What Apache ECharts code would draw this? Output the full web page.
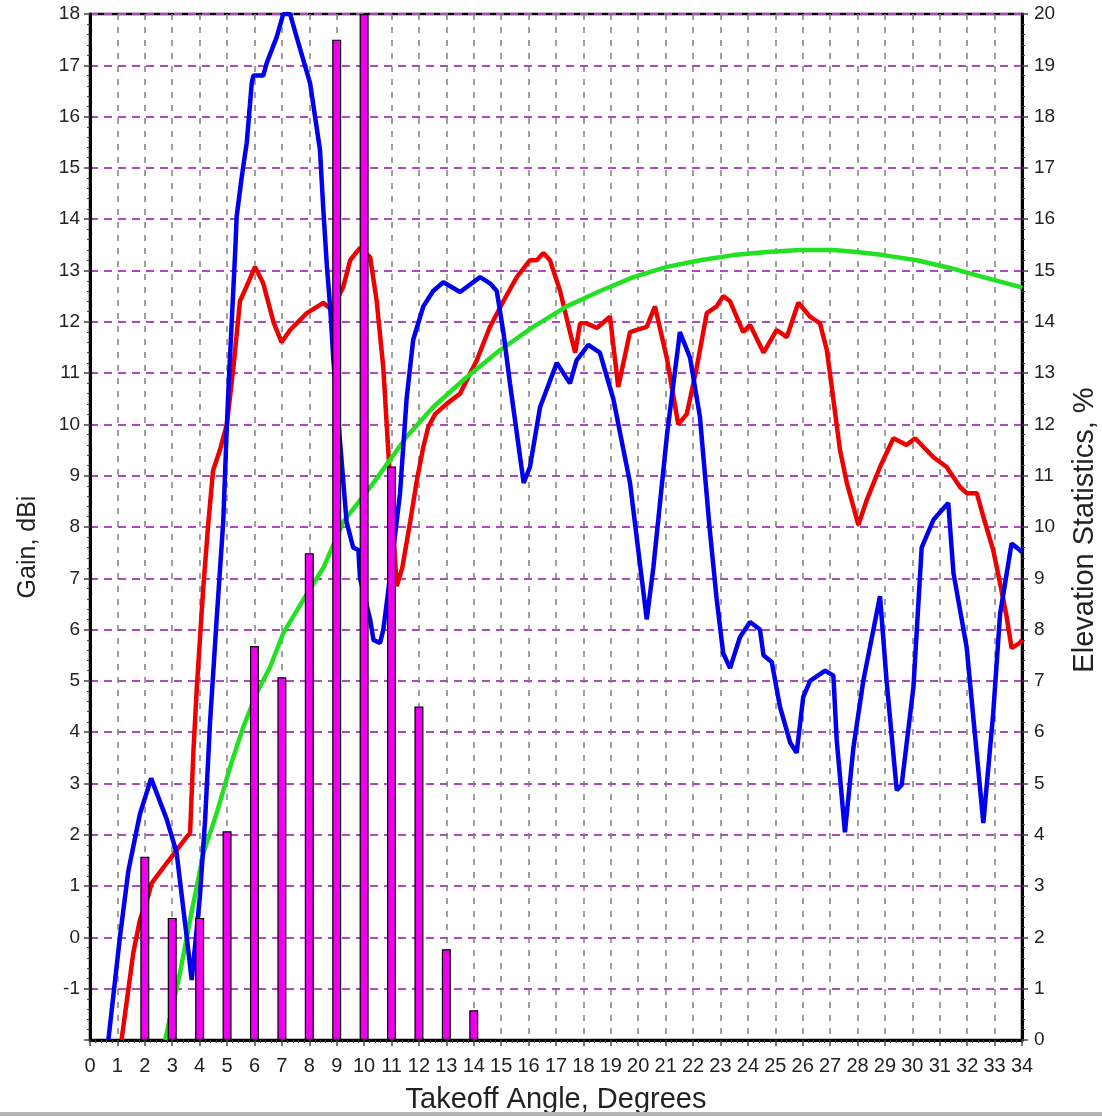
<!DOCTYPE html>
<html>
<head>
<meta charset="utf-8">
<script src="https://cdn.jsdelivr.net/npm/echarts@6/dist/echarts.min.js"></script>
<style>
html,body{margin:0;padding:0;background:#fff;}
#chart{width:1102px;height:1118px;}
</style>
</head>
<body>
<div id="chart"></div>
<script>
// Takeoff angle (deg) vs gain (dBi) - blue antenna
const blueGain = [[0.67,-2],[1.09,0],[1.40,1.3],[1.82,2.4],[2.23,3.1],[2.80,2.3],[3.16,1.65],[3.53,0.0],[3.71,-0.83],[4.01,0.8],[4.20,2.3],[4.38,4.2],[4.62,6.2],[4.86,8.1],[4.98,9.8],[5.06,10.8],[5.18,12.1],[5.30,13.4],[5.35,14.05],[5.53,14.8],[5.72,15.5],[5.90,16.65],[5.96,16.8],[6.32,16.8],[6.45,17.05],[6.81,17.55],[7.05,18.0],[7.30,18.0],[7.54,17.55],[8.03,16.65],[8.39,15.35],[8.51,14.2],[8.64,13.1],[8.76,12.3],[8.88,11.25],[9.36,8.1],[9.60,7.6],[9.79,7.55],[9.85,7.0],[10.22,6.2],[10.34,5.8],[10.58,5.74],[10.70,6.0],[10.82,6.5],[10.94,7.0],[11.31,8.66],[11.55,10.5],[11.79,11.65],[12.16,12.3],[12.52,12.6],[12.89,12.77],[13.50,12.58],[14.23,12.87],[14.59,12.75],[14.84,12.6],[15.08,11.8],[15.32,10.8],[15.82,8.86],[16.05,9.17],[16.42,10.34],[17.03,11.2],[17.51,10.8],[17.75,11.25],[18.18,11.55],[18.60,11.4],[19.09,10.5],[19.70,8.86],[20.31,6.2],[20.55,7.2],[21.05,9.8],[21.52,11.8],[21.89,11.3],[22.25,10.15],[22.60,8.0],[22.86,6.6],[23.10,5.54],[23.35,5.25],[23.71,5.85],[24.08,6.15],[24.44,6.0],[24.57,5.5],[24.87,5.37],[25.17,4.5],[25.54,3.8],[25.78,3.6],[26.02,4.69],[26.27,5.0],[26.82,5.2],[27.12,5.1],[27.24,3.85],[27.54,2.05],[27.85,3.7],[28.21,5.0],[28.82,6.65],[29.06,5.0],[29.43,2.87],[29.61,2.97],[30.04,4.88],[30.34,7.6],[30.77,8.14],[31.31,8.47],[31.50,7.1],[31.98,5.66],[32.59,2.23],[32.95,4.37],[33.20,6.3],[33.62,7.68],[33.92,7.55],[34.0,7.5]];

// red antenna
const redGain = [[1.15,-2],[1.58,-0.3],[1.82,0.34],[2.12,0.8],[2.25,1.06],[2.80,1.45],[3.53,1.96],[3.65,2.03],[3.77,3.6],[3.90,4.9],[4.13,6.8],[4.32,8.1],[4.49,9.1],[4.74,9.5],[4.99,10.0],[5.23,11.1],[5.47,12.4],[5.72,12.7],[6.02,13.07],[6.32,12.75],[6.69,12.0],[6.99,11.6],[7.30,11.84],[7.91,12.17],[8.51,12.37],[8.82,12.23],[9.24,12.68],[9.49,13.2],[9.85,13.44],[10.22,13.26],[10.46,12.4],[10.70,11.1],[10.88,9.5],[10.94,8.97],[11.19,6.85],[11.39,7.2],[11.68,8.1],[11.92,8.9],[12.16,9.56],[12.34,9.95],[12.59,10.2],[13.01,10.4],[13.50,10.6],[14.11,11.25],[14.59,11.9],[15.08,12.4],[15.57,12.87],[16.05,13.2],[16.30,13.2],[16.54,13.34],[16.78,13.2],[17.15,12.6],[17.51,11.8],[17.70,11.4],[17.88,11.97],[18.12,11.97],[18.49,11.88],[18.97,12.1],[19.27,10.73],[19.70,11.8],[20.31,11.9],[20.61,12.3],[21.04,11.3],[21.46,10.0],[21.77,10.2],[22.13,11.1],[22.50,12.17],[22.86,12.3],[23.10,12.5],[23.35,12.4],[23.83,11.8],[24.08,11.94],[24.57,11.4],[25.05,11.84],[25.42,11.7],[25.84,12.37],[26.27,12.1],[26.63,11.97],[26.88,11.45],[27.12,10.48],[27.36,9.5],[27.61,8.86],[28.03,8.04],[28.34,8.53],[28.82,9.17],[29.31,9.73],[29.79,9.6],[30.10,9.73],[30.77,9.36],[31.25,9.17],[31.74,8.78],[31.98,8.66],[32.35,8.66],[32.59,8.2],[32.95,7.55],[33.20,6.9],[33.44,6.25],[33.62,5.64],[33.92,5.74],[34.0,5.8]];

// green reference
const greenGain = [[2.74,-2],[3.28,-0.7],[3.65,0.34],[4.14,1.65],[4.62,2.42],[5.11,3.32],[5.59,4.1],[6.08,4.76],[6.57,5.27],[7.05,5.93],[7.78,6.58],[8.51,7.2],[9.24,8.1],[10.34,8.86],[11.55,9.76],[12.52,10.34],[13.74,10.92],[14.96,11.45],[16.17,11.9],[17.39,12.3],[18.61,12.6],[19.82,12.87],[21.04,13.07],[22.25,13.2],[23.47,13.3],[24.69,13.36],[25.90,13.4],[27.12,13.4],[27.97,13.36],[28.94,13.3],[30.16,13.2],[31.37,13.05],[32.59,12.87],[33.92,12.68],[34.0,12.66]];

// Elevation statistics, %
const statAngles = [2,3,4,5,6,7,8,9,10,11,12,13,14];
const statPercent = [3.57,2.38,2.38,4.07,7.68,7.07,9.49,19.5,20,11.18,6.5,1.77,0.58];

const xTitle = 'Takeoff Angle, Degrees';
const yLeftTitle = 'Gain, dBi';
const yRightTitle = 'Elevation Statistics, %';

const chart = echarts.init(document.getElementById('chart'), null, {renderer:'canvas'});
const FONT = 'Liberation Sans, Arial, sans-serif';
const gridL = 90, gridR = 80, gridT = 14, gridB = 78;

chart.setOption({
  animation:false,
  backgroundColor:'#fff',
  grid:{left:gridL,right:gridR,top:gridT,bottom:gridB,show:true,borderColor:'#000',borderWidth:2.5,backgroundColor:'#fff'},
  xAxis:{
    type:'value',min:0,max:34,interval:1,
    axisLine:{onZero:false,lineStyle:{color:'#000',width:3}},
    axisTick:{length:6,lineStyle:{color:'#444',width:1.5}},
    minorTick:{show:true,splitNumber:5,length:3,lineStyle:{color:'#444',width:1}},
    axisLabel:{fontFamily:FONT,fontSize:20,color:'#222',margin:16},
    splitLine:{show:true,lineStyle:{color:'#808080',width:1.5,type:[6,7]}}
  },
  yAxis:[{
    type:'value',min:-2,max:18,interval:1,position:'left',
    axisLine:{show:true,onZero:false,lineStyle:{color:'#000',width:3}},
    axisTick:{show:true,length:6,lineStyle:{color:'#444',width:1.5}},
    minorTick:{show:true,splitNumber:5,length:3,lineStyle:{color:'#444',width:1}},
    axisLabel:{fontFamily:FONT,fontSize:19,color:'#222',margin:10,formatter:v=>v===-2?'':String(v)},
    splitLine:{show:true,lineStyle:{color:'#b048c0',width:2,type:[8,6]}}
  },{
    type:'value',min:0,max:20,interval:1,position:'right',
    axisLine:{show:true,onZero:false,lineStyle:{color:'#000',width:3}},
    axisTick:{show:true,length:6,lineStyle:{color:'#444',width:1.5}},
    minorTick:{show:true,splitNumber:5,length:3,lineStyle:{color:'#444',width:1}},
    axisLabel:{fontFamily:FONT,fontSize:19,color:'#222',margin:12},
    splitLine:{show:false}
  }],
  series:[
    {type:'line',name:'red',data:redGain,showSymbol:false,symbol:'none',z:3,lineStyle:{color:'#ee0000',width:4.5}},
    {type:'line',name:'green',data:greenGain,showSymbol:false,symbol:'none',z:4,lineStyle:{color:'#22e022',width:4.5}},
    {type:'line',name:'blue',data:blueGain,showSymbol:false,symbol:'none',z:5,lineStyle:{color:'#0000ee',width:4.5}},
    {type:'bar',name:'stats',yAxisIndex:1,barWidth:9,z:10,
     data:statAngles.map((a,i)=>[a,statPercent[i]]),
     itemStyle:{color:'#ee00ee',borderColor:'#000',borderWidth:1.2}}
  ],
  graphic:[
    {type:'text',x:28,y:547,rotation:Math.PI/2,style:{text:yLeftTitle,font:'25px '+FONT,fill:'#222',textAlign:'center',textVerticalAlign:'middle'}},
    {type:'text',x:1085,y:530,rotation:Math.PI/2,style:{text:yRightTitle,font:'29px '+FONT,fill:'#222',textAlign:'center',textVerticalAlign:'middle'}},
    {type:'text',x:556,y:1100,style:{text:xTitle,font:'29px '+FONT,fill:'#222',textAlign:'center',textVerticalAlign:'middle'}},
    {type:'rect',shape:{x:0,y:1112,width:1102,height:4},style:{fill:'#b4b4b4'}}
  ]
});
</script>
</body>
</html>
